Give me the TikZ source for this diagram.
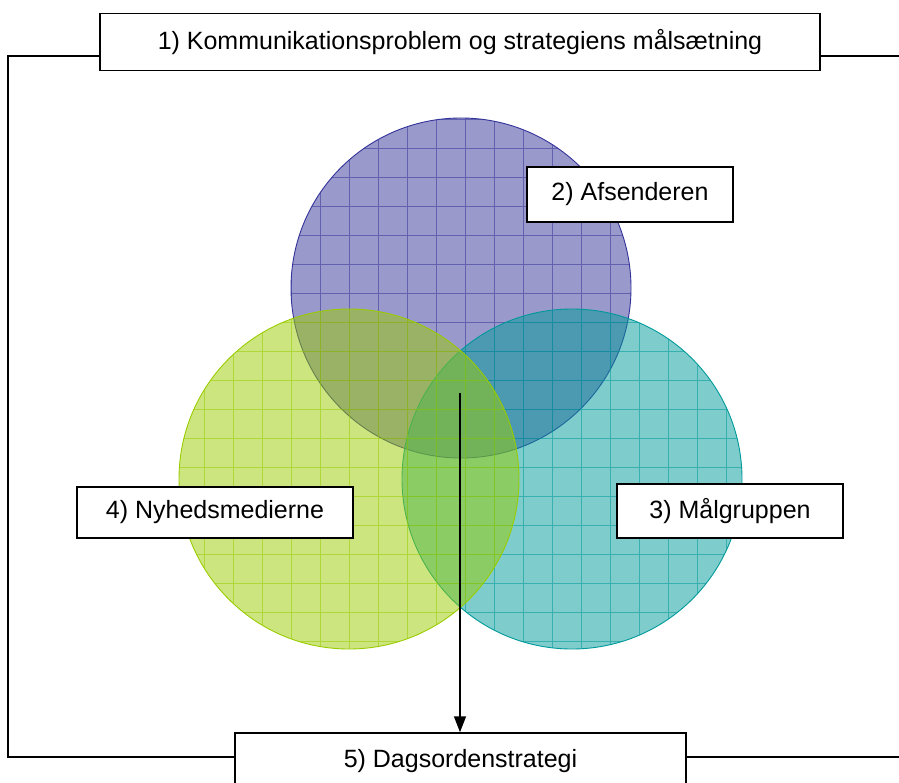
\documentclass[tikz,border=0pt]{standalone}
\usepackage{fontspec}
\setmainfont{Liberation Sans}
\usetikzlibrary{arrows.meta}

\definecolor{cblue}{RGB}{51,51,153}
\definecolor{cteal}{RGB}{0,153,153}
\definecolor{cgreen}{RGB}{153,204,0}

\begin{document}
\begin{tikzpicture}[x=1pt, y=-1pt,
    box/.style={draw, line width=1.5pt, fill=white, inner sep=0pt, font=\fontsize{25}{29}\selectfont},
    frame/.style={line width=1.5pt},
    arr/.style={-{Triangle[length=16pt, width=12pt]}, line width=1.5pt}
]
    \useasboundingbox (0,0) rectangle (899,783);

    % the three overlapping circles
    \foreach \cx/\cy/\col in {461/288/cblue, 572/479/cteal, 349/479/cgreen} {
        \fill[\col, fill opacity=0.5] (\cx,\cy) circle (170pt);
        \begin{scope}
            \clip (\cx,\cy) circle (170pt);
            \draw[\col, opacity=0.55, line width=0.7pt, step=29pt, shift={(1,3)}] (-29,-29) grid (928,812);
        \end{scope}
        \draw[\col, line width=0.9pt] (\cx,\cy) circle (170pt);
    }

    \node[box, minimum width=720pt, minimum height=57pt] (title) at (460,42) {1) Kommunikationsproblem og strategiens målsætning};
    \node[box, minimum width=206pt, minimum height=55pt] (sender) at (630,194.5) {2) Afsenderen};
    \node[box, minimum width=226pt, minimum height=54pt] (audience) at (730,511) {3) Målgruppen};
    \node[box, minimum width=276pt, minimum height=51pt] (media) at (215,512.5) {4) Nyhedsmedierne};
    \node[box, minimum width=451pt, minimum height=57pt] (strategy) at (460.5,761.5) {5) Dagsordenstrategi};

    \coordinate (topleft) at (8,56);
    \coordinate (botleft) at (8,757);
    \coordinate (topright) at (899,56);
    \coordinate (botright) at (899,757);
    \coordinate (hub) at (460,393);

    \draw[frame] (title.west |- topleft) -- (topleft) -- (botleft) -- (strategy.west |- botleft);
    \draw[frame] (title.east |- topright) -- (topright);
    \draw[frame] (strategy.east |- botright) -- (botright);
    \draw[arr] (hub) -- (hub |- strategy.north);
\end{tikzpicture}
\end{document}
